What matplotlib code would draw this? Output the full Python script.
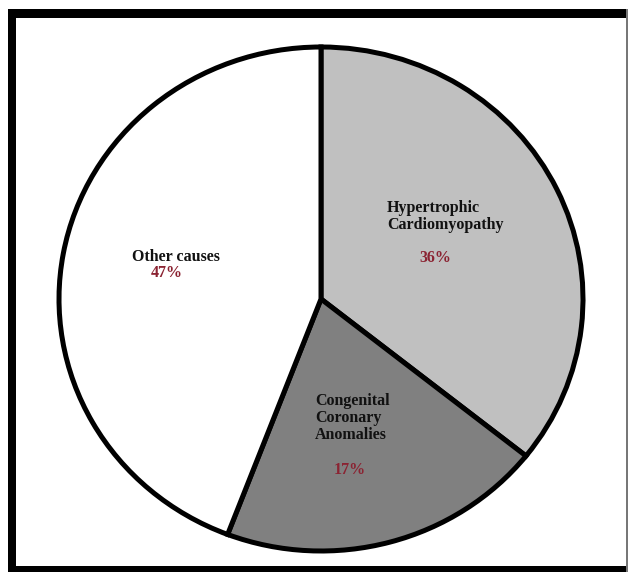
import matplotlib
matplotlib.use("Agg")
import matplotlib.pyplot as plt
from matplotlib.patches import Rectangle

# Slice shares as drawn (clockwise from 12 o'clock) and the printed labels
causes = ["Hypertrophic\nCardiomyopathy", "Congenital\nCoronary\nAnomalies", "Other causes"]
shares = [35.7, 20.1, 44.2]
pct_labels = ["36%", "17%", "47%"]
fills = ["#c0c0c0", "#808080", "#ffffff"]

plt.rcParams["font.family"] = ["Liberation Serif", "DejaVu Serif"]

W, H = 628, 572
fig = plt.figure(figsize=(W / 100, H / 100), dpi=100)

# pie center / radii in pixels (image is slightly stretched horizontally)
cx, cy, rx, ry = 321, 299, 262, 252
ax = fig.add_axes([(cx - rx) / W, (H - cy - ry) / H, 2 * rx / W, 2 * ry / H])

wedges, _ = ax.pie(
    shares,
    colors=fills,
    startangle=90,
    counterclock=False,
    radius=1,
    wedgeprops=dict(edgecolor="black", linewidth=3.6, joinstyle="miter"),
)
for w in wedges:
    w.set_clip_on(False)
ax.set_aspect("auto")
ax.set_xlim(-1, 1)
ax.set_ylim(-1, 1)
ax.axis("off")


def px(x, y):
    return x / W, 1 - y / H


# name labels (left edge, first line center y) and percent positions (centers)
name_pos = [(387, 208), (315, 401), (132, 257)]
pct_pos = [(435, 258), (350, 470), (167, 273)]
line_step = 17

for name, (nx, ny), pct, (ppx, ppy) in zip(causes, name_pos, pct_labels, pct_pos):
    for i, line in enumerate(name.split("\n")):
        fig.text(*px(nx, ny + i * line_step), line, ha="left", va="center",
                 fontsize=11.5, fontweight="bold", color="#111111")
    fig.text(*px(ppx, ppy), pct, ha="center", va="center", fontsize=11.5,
             fontweight="bold", color="#8b2332")

# screenshot frame
fig.add_artist(Rectangle(px(8, 18), (W - 8) / W, 9 / H, transform=fig.transFigure,
                         color="black", lw=0))
fig.add_artist(Rectangle(px(8, H), 8 / W, (H - 9) / H, transform=fig.transFigure,
                         color="black", lw=0))
fig.add_artist(Rectangle(px(8, H), (W - 8) / W, 6 / H, transform=fig.transFigure,
                         color="black", lw=0))
fig.add_artist(Rectangle(px(626, H), 1.5 / W, (H - 9) / H, transform=fig.transFigure,
                         color="#777777", lw=0))

fig.savefig("out.png", dpi=100)
